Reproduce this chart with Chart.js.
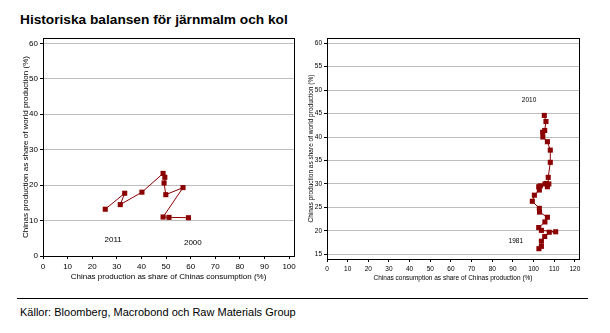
<!DOCTYPE html>
<html>
<head>
<meta charset="utf-8">
<script src="https://cdn.jsdelivr.net/npm/chart.js@4.4.0/dist/chart.umd.min.js"></script>
<style>
  body { margin: 0; background: #fff; width: 610px; height: 333px; position: relative; overflow: hidden; font-family: "Liberation Sans", Arial, sans-serif; }
  #title { position: absolute; left: 20px; top: 12px; font-size: 13.7px; font-weight: bold; color: #000; }
  #left { position: absolute; left: 0; top: 30px; width: 300px; height: 255px; }
  #right { position: absolute; left: 300px; top: 30px; width: 300px; height: 255px; }
  #rule { position: absolute; left: 17px; top: 298px; width: 571px; height: 0; border-top: 1px solid #000; }
  #source { position: absolute; left: 20px; top: 306px; font-size: 11px; color: #000; }
</style>
</head>
<body>
<div id="title">Historiska balansen för järnmalm och kol</div>
<div id="left"><canvas id="c1" width="300" height="255"></canvas></div>
<div id="right"><canvas id="c2" width="300" height="255"></canvas></div>
<div id="rule"></div>
<div id="source">Källor: Bloomberg, Macrobond och Raw Materials Group</div>
<script>
// Järnmalm 2000-2011: production share of consumption (x), share of world production (y)
var ironYears = [2000, 2001, 2002, 2003, 2004, 2005, 2006, 2007, 2008, 2009, 2010, 2011];
var ironX = [59.1, 51.2, 48.8, 56.9, 49.9, 49.2, 49.5, 48.8, 40.2, 31.4, 33.2, 25.3];
var ironY = [10.8, 10.9, 11.0, 19.3, 17.3, 20.6, 22.2, 23.3, 18.0, 14.5, 17.7, 13.2];

// Kol 1981-2010: consumption share of production (x), share of world production (y)
var coalX = [102.6, 103.8, 103.8, 105.4, 107.6, 110.7, 103.8, 102.5, 105.5, 106.7,
             102.9, 102.8, 99.4, 100.4, 102.8, 102.5, 103.3, 105.5, 106.7, 106.2,
             107.4, 107.1, 108.1, 108.1, 106.7, 104.5, 104.4, 105.4, 106.0, 105.2];
var coalY = [16.2, 16.7, 17.8, 18.8, 19.7, 19.8, 20.1, 20.7, 21.9, 22.9,
             24.0, 24.8, 26.3, 27.6, 28.7, 29.4, 29.6, 30.0, 29.4, 30.1,
             30.0, 31.4, 34.6, 37.2, 39.0, 40.0, 41.0, 41.4, 43.3, 44.6];

var leftXTicks = [0, 10, 20, 30, 40, 50, 60, 70, 80, 90, 100];
var leftYTicks = [0, 10, 20, 30, 40, 50, 60];
var rightXTicks = [0, 10, 20, 30, 40, 50, 60, 70, 80, 90, 100, 110, 120];
var rightYTicks = [15, 20, 25, 30, 35, 40, 45, 50, 55, 60];

var leftNotes = [{ text: '2011', x: 28.5, y: 4.7 }, { text: '2000', x: 60.9, y: 3.8 }];
var rightNotes = [{ text: '2010', x: 97.8, y: 47.8 }, { text: '1981', x: 91.4, y: 17.8 }];

var red = '#8b0000';
var fontFamily = '"Liberation Sans", Arial, sans-serif';

function pairs(xs, ys) {
  return xs.map(function (x, i) { return { x: x, y: ys[i] }; });
}

function useTicks(list) {
  return function (scale) {
    scale.ticks = list.map(function (v) { return { value: v }; });
  };
}

// frame + year labels
var framePlugin = {
  id: 'frame',
  afterDraw: function (chart) {
    var a = chart.chartArea, ctx = chart.ctx;
    var o = chart.options.plugins.frame;
    ctx.save();
    ctx.strokeStyle = '#000';
    ctx.lineWidth = 1;
    ctx.strokeRect(Math.round(a.left) + 0.5, Math.round(a.top) + 0.5,
                   Math.round(a.right - a.left), Math.round(a.bottom - a.top));
    ctx.fillStyle = '#000';
    ctx.font = o.size + 'px ' + fontFamily;
    ctx.textAlign = 'center';
    ctx.textBaseline = 'middle';
    o.notes.forEach(function (n) {
      ctx.fillText(n.text, chart.scales.x.getPixelForValue(n.x), chart.scales.y.getPixelForValue(n.y));
    });
    ctx.restore();
  }
};

function makeChart(id, data, cfg) {
  return new Chart(document.getElementById(id), {
    type: 'line',
    data: {
      datasets: [{
        data: data,
        borderColor: red,
        borderWidth: 1,
        backgroundColor: red,
        pointStyle: 'rect',
        pointRadius: 3.6,
        pointBorderWidth: 0,
        pointBackgroundColor: red,
        tension: 0
      }]
    },
    options: {
      responsive: false,
      animation: false,
      layout: { padding: { top: 8, right: cfg.padRight, left: 0, bottom: 0 } },
      plugins: {
        legend: { display: false },
        tooltip: { enabled: false },
        frame: { notes: cfg.notes, size: cfg.font }
      },
      scales: {
        x: {
          type: 'linear',
          min: cfg.xMin, max: cfg.xMax,
          afterBuildTicks: useTicks(cfg.xTicks),
          afterFit: function (s) { s.height = cfg.xHeight; },
          grid: { drawOnChartArea: false, drawTicks: true, tickLength: 3, tickColor: '#000' },
          border: { color: '#000', width: 1 },
          ticks: { color: '#000', font: { size: cfg.font, family: fontFamily }, padding: 3, maxRotation: 0, autoSkip: false },
          title: { display: true, text: cfg.xTitle, color: '#000', font: { size: cfg.font, family: fontFamily }, padding: { top: 0, bottom: 3 } }
        },
        y: {
          type: 'linear',
          min: cfg.yMin, max: cfg.yMax,
          afterBuildTicks: useTicks(cfg.yTicks),
          afterFit: function (s) { s.width = cfg.yWidth; },
          grid: { color: '#bdbdbd', lineWidth: 1, drawTicks: true, tickLength: 3, tickColor: '#000' },
          border: { color: '#000', width: 1 },
          ticks: { color: '#000', font: { size: cfg.font, family: fontFamily }, padding: 2, autoSkip: false },
          title: { display: true, text: 'Chinas production as share of world production (%)', color: '#000', font: { size: cfg.font, family: fontFamily }, padding: { top: cfg.yTitlePad, bottom: 0 } }
        }
      }
    },
    plugins: [framePlugin]
  });
}

makeChart('c1', pairs(ironX, ironY), {
  xMin: 0, xMax: 102, yMin: 0, yMax: 61.5,
  xTicks: leftXTicks, yTicks: leftYTicks,
  xHeight: 29, yWidth: 43, padRight: 6, yTitlePad: 21, font: 8,
  xTitle: 'Chinas production as share of Chinas consumption (%)',
  notes: leftNotes
});

makeChart('c2', pairs(coalX, coalY), {
  xMin: 0, xMax: 122, yMin: 14, yMax: 61.1,
  xTicks: rightXTicks, yTicks: rightYTicks,
  xHeight: 26, yWidth: 27, padRight: 21, yTitlePad: 7, font: 6.5,
  xTitle: 'Chinas consumption as share of Chinas production (%)',
  notes: rightNotes
});
</script>
</body>
</html>
